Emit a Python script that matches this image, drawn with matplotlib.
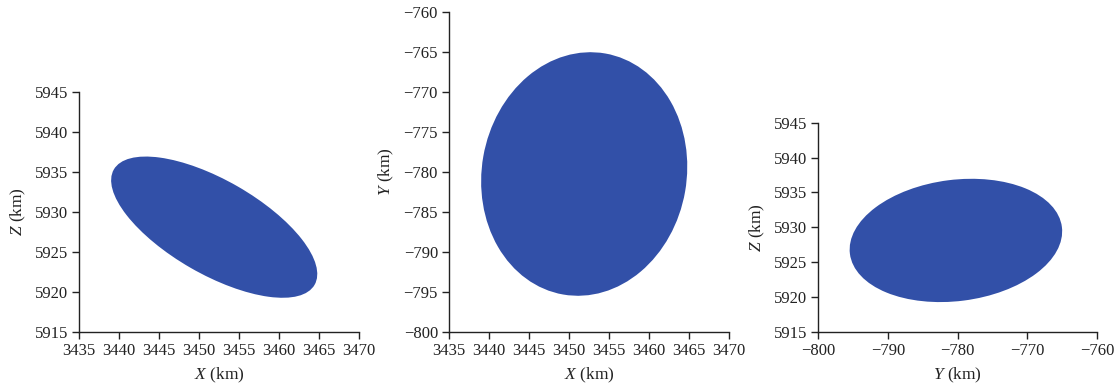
import numpy as np
import matplotlib
matplotlib.use("Agg")
import matplotlib.pyplot as plt
from matplotlib.patches import Ellipse

plt.rcParams["font.family"] = ["Liberation Serif", "DejaVu Serif"]
plt.rcParams["mathtext.fontset"] = "custom"
plt.rcParams["mathtext.rm"] = "Liberation Serif"
plt.rcParams["mathtext.it"] = "Liberation Serif:italic"
plt.rcParams["axes.unicode_minus"] = True

# Error ellipsoid: centre and covariance (km, km^2) in X, Y, Z
centre = [3451.9, -780.25, 5928.1]
cov = [[166.0, 12.0, -75.7],
       [12.0, 232.6, 19.9],
       [-75.7, 19.9, 78.3]]
axis_names = ["X", "Y", "Z"]

# Panel projections (horizontal index, vertical index) with axis limits and ticks
panels = [
    (0, 2, (3435, 3470), (5915, 5945)),
    (0, 1, (3435, 3470), (-800, -760)),
    (1, 2, (-800, -760), (5915, 5945)),
]
x_ticks = [np.arange(3435, 3471, 5), np.arange(3435, 3471, 5), np.arange(-800, -759, 10)]
y_ticks = [np.arange(5915, 5946, 5), np.arange(-800, -759, 5), np.arange(5915, 5946, 5)]

fill_color = "#3250a8"
W, H = 1118, 387
boxes = [
    (79, 92.3, 359, 331.7),
    (449, 12.3, 729, 331.7),
    (818.3, 122.7, 1097, 331.7),
]

fig = plt.figure(figsize=(W / 100, H / 100), dpi=100)
C = np.array(cov)
for k, ((i, j, xl, yl), (x0, y0, x1, y1)) in enumerate(zip(panels, boxes)):
    ax = fig.add_axes([x0 / W, 1 - y1 / H, (x1 - x0) / W, (y1 - y0) / H])
    sub = C[np.ix_([i, j], [i, j])]
    vals, vecs = np.linalg.eigh(sub)
    angle = np.degrees(np.arctan2(vecs[1, 1], vecs[0, 1]))
    ell = Ellipse((centre[i], centre[j]), 2 * np.sqrt(vals[1]), 2 * np.sqrt(vals[0]),
                  angle=angle, facecolor=fill_color, edgecolor="none")
    ax.add_patch(ell)
    ax.set_xlim(*xl)
    ax.set_ylim(*yl)
    ax.set_xticks(x_ticks[k])
    ax.set_yticks(y_ticks[k])
    for s in ("top", "right"):
        ax.spines[s].set_visible(False)
    for s in ("left", "bottom"):
        ax.spines[s].set_color("#222222")
        ax.spines[s].set_linewidth(1.0)
    ax.tick_params(direction="out", length=5, width=1.0, colors="#222222",
                   labelsize=12, pad=3)
    ax.set_xlabel(r"$\mathit{%s}$ (km)" % axis_names[i], fontsize=12.5,
                  color="#222222", labelpad=5)
    ax.set_ylabel(r"$\mathit{%s}$ (km)" % axis_names[j], fontsize=12.5,
                  color="#222222", labelpad=5)

fig.savefig("out.png", dpi=100)
